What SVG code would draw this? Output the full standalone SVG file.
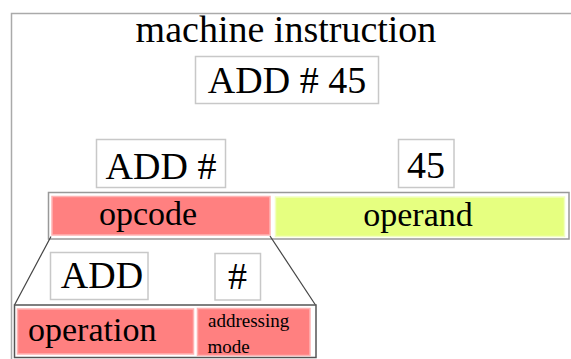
<svg xmlns="http://www.w3.org/2000/svg" width="571" height="359" viewBox="0 0 571 359">
<style>
text{font-family:"Liberation Serif","Times New Roman",serif;fill:#000}
.big{font-size:38px}
.mid{font-size:34px}
.sm{font-size:19px}
.lbl{fill:#fff;stroke:#c8c8c8;stroke-width:1.5}
.red{fill:#ff8080;stroke:#ffb3b3;stroke-width:1.5}
.yel{fill:#e6ff80;stroke:#f2ffc0;stroke-width:1.5}
.c{text-anchor:middle}
</style>
<rect x="11.5" y="13.5" width="600" height="400" fill="#fff" stroke="#aaa" stroke-width="1.5"/>
<g id="title"><text class="big c" x="286" y="42">machine instruction</text></g>
<g id="instr"><rect class="lbl" x="195.5" y="56.5" width="183" height="47"/><text class="big c" x="287" y="92.5">ADD # 45</text></g>
<g id="lbl-addhash"><rect class="lbl" x="96.5" y="139.5" width="129" height="48"/><text class="big c" x="161" y="178.5">ADD #</text></g>
<g id="lbl-45"><rect class="lbl" x="398.5" y="139.5" width="55.5" height="48"/><text class="big c" x="426" y="178">45</text></g>
<g id="instr-bar">
<rect x="48.5" y="192.5" width="520.5" height="46.5" fill="#fff" stroke="#999" stroke-width="1.5"/>
<g id="opcode"><rect class="red" x="52" y="196.5" width="218" height="38.5"/><text class="mid c" x="148" y="224.5">opcode</text></g>
<g id="operand"><rect class="yel" x="275.5" y="197" width="289" height="39.5"/><text class="mid c" x="418" y="225.5">operand</text></g>
</g>
<g id="connectors" stroke="#444" stroke-width="1.2" fill="none">
<line x1="51" y1="236.5" x2="14.5" y2="305"/>
<line x1="270" y1="236" x2="315.5" y2="305"/>
</g>
<g id="lbl-add"><rect class="lbl" x="50.5" y="252.5" width="97.5" height="47"/><text class="big c" x="102" y="287.5">ADD</text></g>
<g id="lbl-hash"><rect class="lbl" x="215" y="253.5" width="45.5" height="46.5"/><text class="big c" x="237.5" y="288.5">#</text></g>
<g id="opcode-bar">
<rect x="14.5" y="305" width="301.5" height="52.5" fill="#fff" stroke="#555" stroke-width="1.5"/>
<g id="operation"><rect class="red" x="17.5" y="309" width="176" height="45"/><text class="mid" x="28" y="341">operation</text></g>
<g id="addrmode"><rect class="red" x="197.5" y="308.5" width="112.5" height="47"/><text class="sm" x="208" y="326.7">addressing</text><text class="sm" x="207.5" y="352.5">mode</text></g>
</g>
</svg>
